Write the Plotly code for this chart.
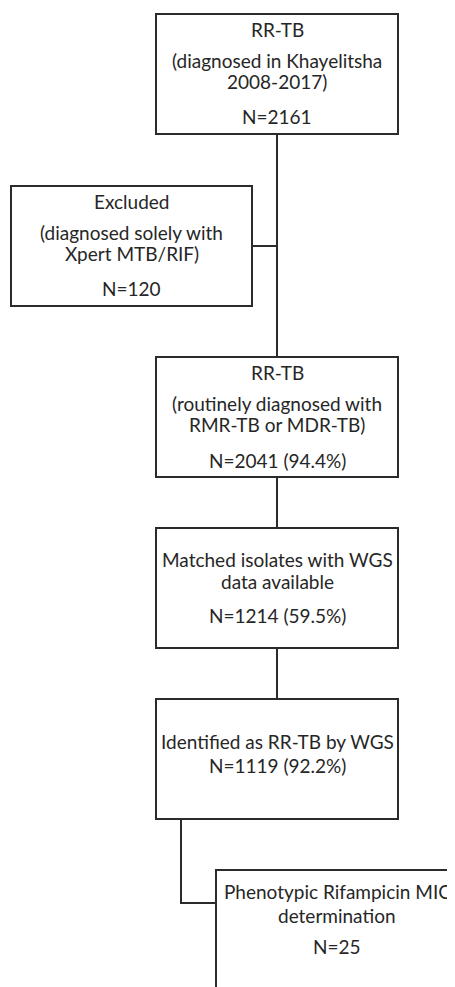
import plotly.graph_objects as go

# ---------------- data ----------------
stage_titles = [
    "RR-TB",
    "Excluded",
    "RR-TB",
    "Matched isolates with WGS\ndata available",
    "Identified as RR-TB by WGS",
    "Phenotypic Rifampicin MIC\ndetermination",
]
stage_details = [
    "(diagnosed in Khayelitsha\n2008-2017)",
    "(diagnosed solely with\nXpert MTB/RIF)",
    "(routinely diagnosed with\nRMR-TB or MDR-TB)",
    None,
    None,
    None,
]
stage_counts = [2161, 120, 2041, 1214, 1119, 25]
stage_percents = [None, None, 94.4, 59.5, 92.2, None]

# ---------------- layout (pixel canvas) ----------------
W, H = 455, 987
PAGE_MARGIN = 8  # default body margin of the html page
boxes = [  # x0, y0, x1, y1
    (156, 14, 398, 134),
    (11, 186, 252, 306),
    (156, 357, 398, 477),
    (156, 528, 398, 648),
    (156, 699, 398, 819),
    (216, 870, 458, 990),
]
# y-centres of the text lines inside each box, offsets from box top
line_offsets = [
    [15, 46, 67, 102],
    [15, 46, 67, 102],
    [15, 46, 67, 103],
    [31, 53, 87],
    [42, 66],
    [21, 45, 76],
]
connectors = [  # polylines
    [(277, 134), (277, 357)],
    [(252, 246), (277, 246)],
    [(277, 477), (277, 528)],
    [(277, 648), (277, 699)],
    [(181, 819), (181, 903), (216, 903)],
]

LINE = "#2b2b2b"
TEXT = "#262626"
FONT = "Lato"
FS = 19

fig = go.Figure()

shapes = []
for (x0, y0, x1, y1) in boxes:
    shapes.append(dict(type="rect", xref="x", yref="y", x0=x0, y0=y0, x1=x1, y1=y1,
                       line=dict(color=LINE, width=2), fillcolor="rgba(0,0,0,0)", layer="above"))
for pts in connectors:
    path = "M " + " L ".join(f"{x},{y}" for x, y in pts)
    shapes.append(dict(type="path", xref="x", yref="y", path=path,
                       line=dict(color=LINE, width=2)))

annotations = []
for i, box in enumerate(boxes):
    lines = stage_titles[i].split("\n")
    if stage_details[i]:
        lines += stage_details[i].split("\n")
    n = f"N={stage_counts[i]}"
    if stage_percents[i] is not None:
        n += f" ({stage_percents[i]:.1f}%)"
    lines.append(n)
    cx = (box[0] + box[2]) / 2
    for txt, off in zip(lines, line_offsets[i]):
        annotations.append(dict(x=cx, y=box[1] + off, xref="x", yref="y", text=txt,
                                showarrow=False, xanchor="center", yanchor="middle",
                                font=dict(family=FONT, size=FS, color=TEXT)))

fig.update_layout(
    width=W - PAGE_MARGIN, height=H - PAGE_MARGIN,
    margin=dict(l=0, r=0, t=0, b=0),
    paper_bgcolor="white", plot_bgcolor="white",
    xaxis=dict(range=[PAGE_MARGIN, W], visible=False, fixedrange=True),
    yaxis=dict(range=[H, PAGE_MARGIN], visible=False, fixedrange=True),
    shapes=shapes, annotations=annotations, showlegend=False,
)

fig.write_html("out.html")
